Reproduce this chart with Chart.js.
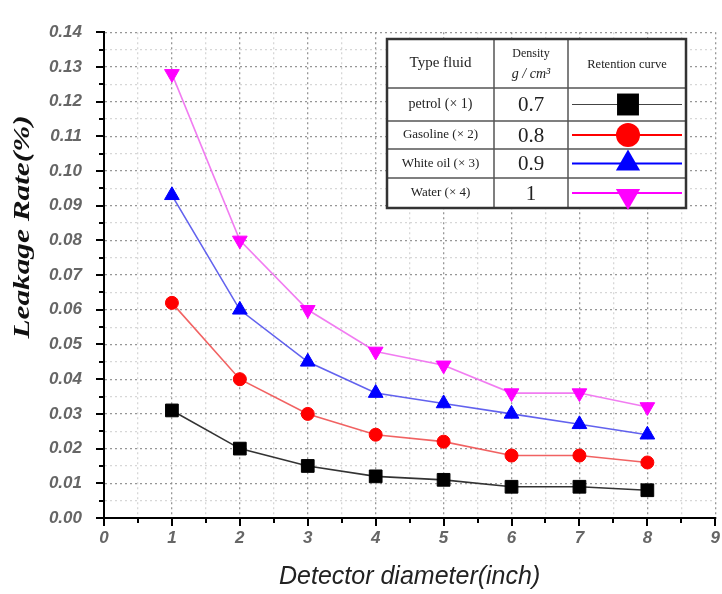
<!DOCTYPE html>
<html>
<head>
<meta charset="utf-8">
<title>Leakage rate</title>
<script src="https://cdn.jsdelivr.net/npm/chart.js"></script>
<style>
    html, body { margin: 0; padding: 0; background: #fff; overflow: hidden; }
    /* un peu plus large que la fenêtre : le "9" de l'axe x est coupé comme sur l'original */
    #wrap { position: relative; width: 730px; height: 594px; }
</style>
</head>
<body>
<div id="wrap"><canvas id="chart"></canvas></div>
<script>
/** données */
const diameters = [ 1, 2, 3, 4, 5, 6, 7, 8 ]
const petrol   = [ 0.031, 0.020, 0.015, 0.012, 0.011, 0.009, 0.009, 0.008 ]
const gasoline = [ 0.062, 0.040, 0.030, 0.024, 0.022, 0.018, 0.018, 0.016 ]
const whiteOil = [ 0.093, 0.060, 0.045, 0.036, 0.033, 0.030, 0.027, 0.024 ]
const water    = [ 0.128, 0.080, 0.060, 0.048, 0.044, 0.036, 0.036, 0.032 ]

const fluids = [ 'petrol (\u00d7 1)', 'Gasoline (\u00d7 2)', 'White oil (\u00d7 3)', 'Water (\u00d7 4)' ]
const densities = [ '0.7', '0.8', '0.9', '1' ]
const yTitle = 'Leakage Rate(%)'
const xTitle = 'Detector diameter(inch)'

const SANS = '"Liberation Sans", Arial, sans-serif'
const SERIF = '"Liberation Serif", "Times New Roman", serif'

/** transforme deux tableaux en points {x, y} */
function toPoints( xs, ys ) {
    return ys.map( ( y, i ) => ( { x: xs[ i ], y: y } ) )
}

function isMajorY( v ) { return Math.abs( v * 100 - Math.round( v * 100 ) ) < 1e-6 }
function isMajorX( v ) { return Math.abs( v - Math.round( v ) ) < 1e-6 }

// styles des courbes (repris dans le tableau-légende)
const styles = [
    { line: '#333333', fill: '#000000', pointStyle: 'rect', radius: 9, rotation: 0 },
    { line: 'rgba(238,70,70,0.85)', fill: '#ff0000', pointStyle: 'circle', radius: 6.5, rotation: 0 },
    { line: 'rgba(70,70,235,0.85)', fill: '#0000ff', pointStyle: 'triangle', radius: 8.5, rotation: 0 },
    { line: 'rgba(240,110,240,0.9)', fill: '#ff00ff', pointStyle: 'triangle', radius: 8.5, rotation: 180 }
]
const series = [ petrol, gasoline, whiteOil, water ]

const datasets = series.map( ( s, i ) => ( {
    label: fluids[ i ],
    data: toPoints( diameters, s ),
    borderColor: styles[ i ].line,
    borderWidth: 1.6,
    backgroundColor: styles[ i ].fill,
    pointBackgroundColor: styles[ i ].fill,
    pointBorderColor: styles[ i ].fill,
    pointBorderWidth: 1,
    pointStyle: styles[ i ].pointStyle,
    pointRadius: styles[ i ].radius,
    pointRotation: styles[ i ].rotation,
    tension: 0,
    clip: false
} ) )

/** dessine un marqueur simple (carré, rond, triangle) */
function marker( ctx, style, r, rot, x, y ) {
    ctx.beginPath()
    if ( style == 'rect' ) {
        const s = r * Math.SQRT1_2
        ctx.rect( x - s, y - s, 2 * s, 2 * s )
    } else if ( style == 'circle' ) {
        ctx.arc( x, y, r, 0, Math.PI * 2 )
    } else {
        const d = rot == 180 ? -1 : 1
        ctx.moveTo( x, y - d * r )
        ctx.lineTo( x - r * 0.866, y + d * r / 2 )
        ctx.lineTo( x + r * 0.866, y + d * r / 2 )
        ctx.closePath()
    }
    ctx.fill()
}

/** petites graduations extérieures (majeures et mineures) */
const tickMarks = {
    id: 'tickMarks',
    afterDraw( chart ) {
        const ctx = chart.ctx
        const area = chart.chartArea
        ctx.save()
        ctx.strokeStyle = '#000'
        ctx.lineWidth = 2
        chart.scales.y.ticks.forEach( t => {
            const py = Math.round( chart.scales.y.getPixelForValue( t.value ) )
            const len = isMajorY( t.value ) ? 8 : 5
            ctx.beginPath()
            ctx.moveTo( area.left, py )
            ctx.lineTo( area.left - len, py )
            ctx.stroke()
        } )
        chart.scales.x.ticks.forEach( t => {
            const px = Math.round( chart.scales.x.getPixelForValue( t.value ) )
            const len = isMajorX( t.value ) ? 8 : 5
            ctx.beginPath()
            ctx.moveTo( px, area.bottom )
            ctx.lineTo( px, area.bottom + len )
            ctx.stroke()
        } )
        ctx.restore()
    }
}

/** titre de l'axe y : serif italique, étiré dans le sens du texte comme sur l'original */
const yAxisTitle = {
    id: 'yAxisTitle',
    afterDraw( chart ) {
        const ctx = chart.ctx
        ctx.save()
        ctx.translate( 23, 227 )
        ctx.rotate( -Math.PI / 2 )
        ctx.scale( 1.36, 1 )
        ctx.font = 'italic bold 23px ' + SERIF
        ctx.fillStyle = '#111'
        ctx.textAlign = 'center'
        ctx.textBaseline = 'middle'
        ctx.fillText( yTitle, 0, 0 )
        ctx.restore()
    }
}

/** tableau-légende en haut à droite */
const tableLegend = {
    id: 'tableLegend',
    afterDraw( chart ) {
        const ctx = chart.ctx
        const L = 387, T = 39, R = 686, B = 208
        const cols = [ L, 494, 568, R ]
        const rows = [ T, 88, 121, 149, 178, B ]

        ctx.save()
        ctx.fillStyle = '#fff'
        ctx.fillRect( L, T, R - L, B - T )

        // lignes intérieures
        ctx.strokeStyle = '#555'
        ctx.lineWidth = 1.5
        rows.slice( 1, -1 ).forEach( y => {
            ctx.beginPath(); ctx.moveTo( L, y ); ctx.lineTo( R, y ); ctx.stroke()
        } )
        cols.slice( 1, -1 ).forEach( x => {
            ctx.beginPath(); ctx.moveTo( x, T ); ctx.lineTo( x, B ); ctx.stroke()
        } )
        // cadre
        ctx.strokeStyle = '#333'
        ctx.lineWidth = 2.5
        ctx.strokeRect( L, T, R - L, B - T )

        // en-tête
        ctx.fillStyle = '#222'
        ctx.textAlign = 'center'
        ctx.textBaseline = 'middle'
        ctx.font = '15px ' + SERIF
        ctx.fillText( 'Type fluid', ( cols[ 0 ] + cols[ 1 ] ) / 2, 63 )
        ctx.font = '12px ' + SERIF
        ctx.fillText( 'Density', ( cols[ 1 ] + cols[ 2 ] ) / 2, 54 )
        ctx.font = 'italic 14px ' + SERIF
        ctx.fillText( 'g / cm\u00b3', ( cols[ 1 ] + cols[ 2 ] ) / 2, 74 )
        ctx.font = '12.5px ' + SERIF
        ctx.fillText( 'Retention curve', ( cols[ 2 ] + cols[ 3 ] ) / 2, 65 )

        // lignes du tableau
        const big = { rect: 15.5, circle: 12, triangle: 14 }
        for ( let i = 0; i < fluids.length; i++ ) {
            const cy = ( rows[ i + 1 ] + rows[ i + 2 ] ) / 2
            ctx.fillStyle = '#222'
            ctx.font = ( i == 0 ? '14px ' : '13px ' ) + SERIF
            ctx.fillText( fluids[ i ], ( cols[ 0 ] + cols[ 1 ] ) / 2, cy )
            ctx.font = '21px ' + SERIF
            ctx.fillText( densities[ i ], ( cols[ 1 ] + cols[ 2 ] ) / 2, cy + 1 )

            const st = styles[ i ]
            ctx.strokeStyle = i == 0 ? '#444' : st.fill
            ctx.lineWidth = i == 0 ? 1.2 : 2
            ctx.beginPath()
            ctx.moveTo( cols[ 2 ] + 4, cy )
            ctx.lineTo( cols[ 3 ] - 4, cy )
            ctx.stroke()

            ctx.fillStyle = st.fill
            marker( ctx, st.pointStyle, big[ st.pointStyle ], st.rotation, 628, cy + ( i == 3 ? 3 : 0 ) )
        }
        ctx.restore()
    }
}

const gridColor = ( ctx, major ) => major( ctx.tick.value ) ? 'rgba(140,140,140,0.9)' : 'rgba(205,205,205,0.8)'
const tickFont = { family: SANS, size: 17, style: 'italic', weight: 'bold' }

new Chart( document.getElementById( 'chart' ), {
    type: 'line',
    data: { datasets: datasets },
    options: {
        responsive: true,
        maintainAspectRatio: false,
        animation: false,
        layout: { padding: { top: 18, right: 6, left: 0, bottom: 0 } },
        plugins: {
            legend: { display: false },
            tooltip: { enabled: false }
        },
        scales: {
            x: {
                type: 'linear',
                min: 0,
                max: 9,
                afterFit( scale ) { scale.height = 76 },
                border: { display: true, color: '#000', width: 2, dash: [ 2, 3 ] },
                grid: {
                    drawTicks: false,
                    color: ctx => gridColor( ctx, isMajorX ),
                    lineWidth: 1.3
                },
                ticks: {
                    stepSize: 0.5,
                    autoSkip: false,
                    maxRotation: 0,
                    padding: 10,
                    color: '#666',
                    font: tickFont,
                    callback: v => isMajorX( v ) ? String( Math.round( v ) ) : ''
                },
                title: {
                    display: true,
                    text: xTitle,
                    color: '#222',
                    font: { family: SANS, size: 25, style: 'italic' },
                    padding: { top: 0, bottom: 2 }
                }
            },
            y: {
                type: 'linear',
                min: 0,
                max: 0.14,
                afterFit( scale ) { scale.width = 104 },
                border: { display: true, color: '#000', width: 2, dash: [ 2, 3 ] },
                grid: {
                    drawTicks: false,
                    color: ctx => gridColor( ctx, isMajorY ),
                    lineWidth: 1.3
                },
                ticks: {
                    stepSize: 0.005,
                    autoSkip: false,
                    padding: 22,
                    color: '#666',
                    font: tickFont,
                    callback: v => isMajorY( v ) ? v.toFixed( 2 ) : ''
                },
                title: { display: false }
            }
        }
    },
    plugins: [ tickMarks, yAxisTitle, tableLegend ]
} )
</script>
</body>
</html>
